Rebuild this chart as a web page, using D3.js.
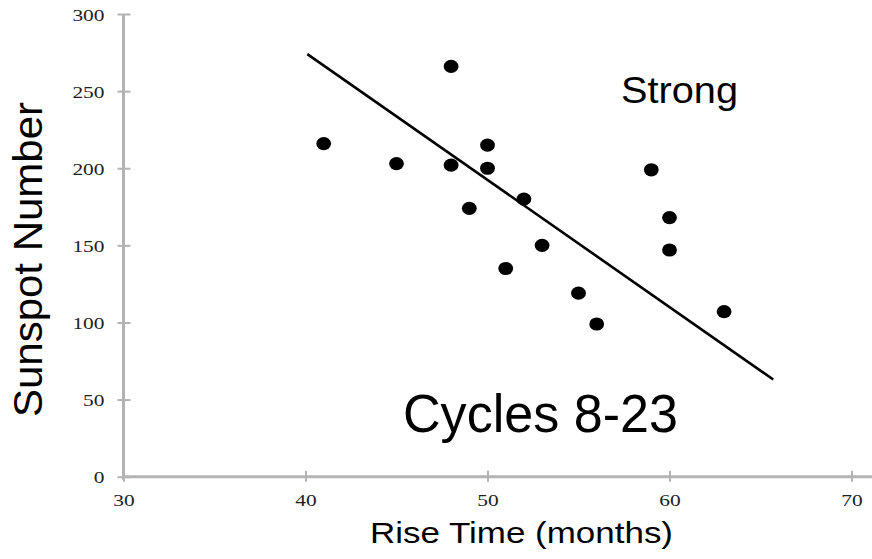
<!DOCTYPE html>
<html>
<head>
<meta charset="utf-8">
<script src="https://cdn.jsdelivr.net/npm/d3@7"></script>
<style>
  html, body { margin: 0; padding: 0; background: #fff; }
  svg { display: block; }
</style>
</head>
<body>
<svg id="chart" width="872" height="559"></svg>
<script>
// Data: solar cycles 8-23
const riseTime = [41, 45, 48, 48, 49, 50, 50, 51, 52, 53, 55, 56, 59, 60, 60, 63];
const sunspotNumber = [216, 203, 266, 202, 174, 215, 200, 135, 180, 150, 119, 99, 199, 168, 147, 107];
const trendX = [40.1, 65.7];
const trendY = [274, 63];
const xTicks = [30, 40, 50, 60, 70];
const yTicks = [0, 50, 100, 150, 200, 250, 300];

const svg = d3.select("#chart");
const x = d3.scaleLinear().domain([30, 70]).range([123.5, 851.5]);
const y = d3.scaleLinear().domain([0, 300]).range([476.7, 14]);

const axisColor = "#b3b3b3";
const labelColor = "#1e1e1e";

// Y axis
const yAxis = svg.append("g").attr("transform", `translate(${x(30)},0)`)
  .call(d3.axisLeft(y).tickValues(yTicks).tickSize(6).tickSizeOuter(0).tickPadding(0));
yAxis.select(".domain").attr("stroke", axisColor).attr("stroke-width", 3)
  .attr("d", `M0,${y(300)}V${y(0) + 3}`);
yAxis.selectAll(".tick line").attr("stroke", axisColor).attr("stroke-width", 2)
  .attr("x1", 7).attr("x2", -6);
yAxis.selectAll(".tick text")
  .attr("x", -19).attr("dy", "0.36em")
  .attr("fill", labelColor)
  .attr("font-family", "'Liberation Serif', 'DejaVu Serif', serif")
  .attr("font-size", 17)
  .attr("text-anchor", "end")
  .attr("textLength", d => String(d).length * 10.7)
  .attr("lengthAdjust", "spacingAndGlyphs");

// X axis
const xAxis = svg.append("g").attr("transform", `translate(0,${y(0)})`)
  .call(d3.axisBottom(x).tickValues(xTicks).tickSize(6).tickSizeOuter(0).tickPadding(0));
xAxis.select(".domain").attr("stroke", axisColor).attr("stroke-width", 3)
  .attr("d", `M${x(30) - 1.5},0H872`);
xAxis.selectAll(".tick line").attr("stroke", axisColor).attr("stroke-width", 2)
  .attr("y1", -6).attr("y2", 5);
xAxis.selectAll(".tick text")
  .attr("y", 29.5).attr("dy", 0)
  .attr("fill", labelColor)
  .attr("font-family", "'Liberation Serif', 'DejaVu Serif', serif")
  .attr("font-size", 17)
  .attr("textLength", d => String(d).length * 10.7)
  .attr("lengthAdjust", "spacingAndGlyphs");

// Trend line
svg.append("line")
  .attr("x1", x(trendX[0])).attr("y1", y(trendY[0]))
  .attr("x2", x(trendX[1])).attr("y2", y(trendY[1]))
  .attr("stroke", "#000").attr("stroke-width", 2.6);

// Points
const pts = riseTime.map((r, i) => ({ r, s: sunspotNumber[i] }));
svg.append("g").selectAll("ellipse").data(pts).join("ellipse")
  .attr("cx", d => x(d.r)).attr("cy", d => y(d.s))
  .attr("rx", 7.4).attr("ry", 6.6)
  .attr("fill", "#000");

// Texts
const sans = "'Liberation Sans', Arial, Helvetica, sans-serif";
svg.append("text")
  .attr("x", 370).attr("y", 543)
  .attr("font-family", sans).attr("font-size", 29).attr("fill", "#000")
  .attr("textLength", 303).attr("lengthAdjust", "spacingAndGlyphs")
  .text("Rise Time (months)");

svg.append("text")
  .attr("transform", "translate(42,417) rotate(-90)")
  .attr("font-family", sans).attr("font-size", 40).attr("fill", "#000")
  .attr("textLength", 315).attr("lengthAdjust", "spacingAndGlyphs")
  .text("Sunspot Number");

svg.append("text")
  .attr("x", 621).attr("y", 103)
  .attr("font-family", sans).attr("font-size", 36).attr("fill", "#000")
  .attr("textLength", 117).attr("lengthAdjust", "spacingAndGlyphs")
  .text("Strong");

svg.append("text")
  .attr("x", 403).attr("y", 432)
  .attr("font-family", sans).attr("font-size", 53).attr("fill", "#000")
  .attr("textLength", 275).attr("lengthAdjust", "spacingAndGlyphs")
  .text("Cycles 8-23");
</script>
</body>
</html>
